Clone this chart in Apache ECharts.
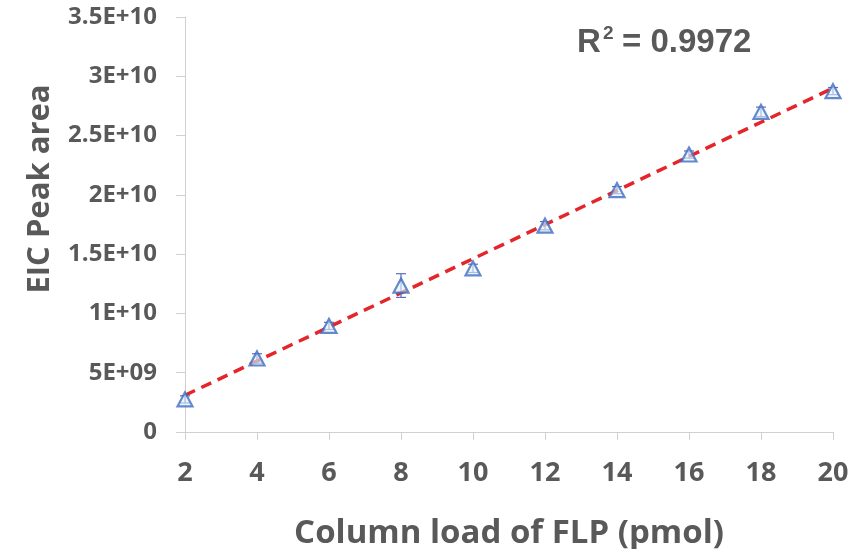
<!DOCTYPE html>
<html><head><meta charset="utf-8">
<script src="https://cdn.jsdelivr.net/npm/echarts@6/dist/echarts.min.js"></script>
<style>html,body{margin:0;padding:0;background:#fff}#c{width:867px;height:549px}</style>
</head><body><div id="c"></div>
<script>
const loads = [2, 4, 6, 8, 10, 12, 14, 16, 18, 20];
const peakArea = [2.75e9, 6.2e9, 8.95e9, 12.35e9, 13.8e9, 17.4e9, 20.4e9, 23.4e9, 27.0e9, 28.75e9];
const errAmount = [0.3e9, 0.4e9, 0.3e9, 1.0e9, 0.35e9, 0.35e9, 0.3e9, 0.3e9, 0.4e9, 0.3e9];
const trendX = [2, 20];
const trendY = [3.1e9, 29.0e9];
const yTitle = 'EIC Peak area';
const xTitle = 'Column load of FLP (pmol)';

const gray = '#595959';
const pts = loads.map((x, i) => [x, peakArea[i]]);
const errData = loads.map((x, i) => [x, peakArea[i] - errAmount[i], peakArea[i] + errAmount[i]]);

const chart = echarts.init(document.getElementById('c'));
chart.setOption({
  animation: false,
  grid: {left: 185, right: 34, top: 17, bottom: 117, containLabel: false, outerBoundsMode: 'none'},
  xAxis: {
    type: 'value', min: 2, max: 20, interval: 2,
    name: xTitle, nameLocation: 'middle', nameGap: 85,
    nameTextStyle: {color: gray, fontSize: 33, fontWeight: 'bold', fontFamily: 'Open Sans'},
    axisLine: {show: true, lineStyle: {color: '#d0d0d0', width: 1}},
    axisTick: {show: true, length: 8, lineStyle: {color: '#d0d0d0'}},
    axisLabel: {color: gray, fontSize: 27, fontWeight: 'bold', fontFamily: 'Open Sans', margin: 28},
    splitLine: {show: false}
  },
  yAxis: {
    type: 'value', min: 0, max: 3.5e10, interval: 5e9,
    axisLine: {show: true, lineStyle: {color: '#d0d0d0', width: 1}},
    axisTick: {show: true, length: 9, lineStyle: {color: '#d0d0d0'}},
    axisLabel: {color: gray, fontSize: 24, fontWeight: 'bold', fontFamily: 'Open Sans', margin: 28,
      formatter: function (v) {
        if (v === 0) return '0';
        const e = Math.floor(Math.log10(v));
        const m = v / Math.pow(10, e);
        const ms = Number.isInteger(m) ? String(m) : m.toFixed(1);
        return ms + 'E+' + (e < 10 ? '0' + e : e);
      }
    },
    splitLine: {show: false}
  },
  series: [
    {
      type: 'line', data: trendX.map((x, i) => [x, trendY[i]]), symbol: 'none',
      lineStyle: {color: '#e4262b', width: 3.5, type: [11, 7]}, z: 3
    },
    {
      type: 'custom', data: errData, z: 4,
      renderItem: function (params, api) {
        const x = api.value(0);
        const lo = api.coord([x, api.value(1)]);
        const hi = api.coord([x, api.value(2)]);
        const w = 5;
        const st = {stroke: '#5b6fb8', lineWidth: 1.2};
        return {type: 'group', children: [
          {type: 'line', shape: {x1: lo[0], y1: lo[1], x2: hi[0], y2: hi[1]}, style: st},
          {type: 'line', shape: {x1: lo[0] - w, y1: lo[1], x2: lo[0] + w, y2: lo[1]}, style: st},
          {type: 'line', shape: {x1: hi[0] - w, y1: hi[1], x2: hi[0] + w, y2: hi[1]}, style: st}
        ]};
      }
    },
    {
      type: 'scatter', data: pts, symbol: 'triangle', symbolSize: [15, 14], z: 5,
      itemStyle: {color: 'rgba(225,242,250,0.75)', borderColor: '#3f6cc0', borderWidth: 2.2}
    }
  ],
  graphic: [
    {type: 'text', left: 577, top: 26,
     style: {text: 'R', fill: gray, font: 'bold 33px "Liberation Sans", Arial, sans-serif'}},
    {type: 'text', left: 603, top: 24,
     style: {text: '2', fill: gray, font: 'bold 19px "Liberation Sans", Arial, sans-serif'}},
    {type: 'text', left: 622, top: 26,
     style: {text: '= 0.9972', fill: gray, font: 'bold 33px "Liberation Sans", Arial, sans-serif'}},
    {type: 'text', x: 40, y: 189, rotation: Math.PI / 2,
     style: {text: yTitle, fill: gray, font: 'bold 31px "Open Sans", sans-serif', align: 'center', verticalAlign: 'middle'}}
  ]
});
</script></body></html>
